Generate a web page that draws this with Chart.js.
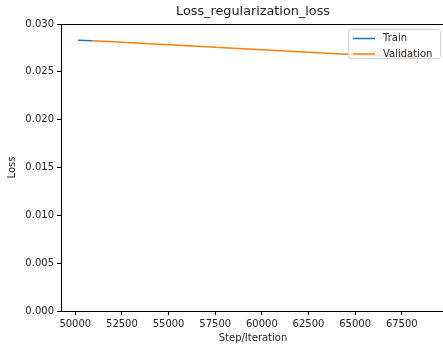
<!DOCTYPE html>
<html>
<head>
<meta charset="utf-8">
<script src="https://cdn.jsdelivr.net/npm/chart.js@4/dist/chart.umd.min.js"></script>
<style>
  html, body { margin: 0; padding: 0; background: #fff; overflow: hidden; }
  #wrap { width: 447px; height: 347px; }
</style>
</head>
<body>
<div id="wrap"><canvas id="c" width="447" height="347"></canvas></div>
<script>
// Training curve (short run at the start)
const trainSteps = [50150, 50900];
const trainLoss  = [0.02830, 0.02826];

// Validation curve
const valSteps = [50900, 52000, 53500, 55000, 56500, 58000, 59500, 61000, 62500, 64000, 65500, 67000, 68500];
const valLoss  = [0.02826, 0.02815, 0.02799, 0.02784, 0.02768, 0.02753, 0.02737, 0.02721, 0.02706, 0.02690, 0.02675, 0.02659, 0.02644];

// Axis ticks
const xTicks = [50000, 52500, 55000, 57500, 60000, 62500, 65000, 67500];
const yTicks = [0.000, 0.005, 0.010, 0.015, 0.020, 0.025, 0.030];

const chartTitle = 'Loss_regularization_loss';

const FONT = "'DejaVu Sans', sans-serif";
const TEXT = '#222';

const toPoints = (xs, ys) => xs.map((x, i) => ({ x: x, y: ys[i] }));

// Full frame around the plot area, plus the title centred over it
const framePlugin = {
  id: 'frame',
  afterDraw(chart) {
    const { ctx, chartArea: a } = chart;
    ctx.save();
    ctx.strokeStyle = '#000';
    ctx.lineWidth = 1;
    ctx.strokeRect(Math.round(a.left) + 0.5, Math.round(a.top) + 0.5,
                   Math.round(a.right - a.left), Math.round(a.bottom - a.top));
    ctx.fillStyle = TEXT;
    ctx.font = '12.8px ' + FONT;
    ctx.textAlign = 'center';
    ctx.textBaseline = 'middle';
    ctx.fillText(chartTitle, (a.left + a.right) / 2, a.top - 12);
    ctx.restore();
  }
};

// Boxed legend in the upper-right corner of the plot
const boxLegend = {
  id: 'boxLegend',
  afterDatasetsDraw(chart) {
    const { ctx, chartArea: a } = chart;
    const sets = chart.data.datasets;
    const w = 92, rowH = 15.5, h = 29;
    const x = a.right - 5 - w, y = a.top + 5;
    ctx.save();
    ctx.beginPath();
    if (ctx.roundRect) ctx.roundRect(x + 0.5, y + 0.5, w, h, 2); else ctx.rect(x + 0.5, y + 0.5, w, h);
    ctx.fillStyle = 'rgba(255,255,255,0.8)';
    ctx.fill();
    ctx.strokeStyle = '#d0d0d0';
    ctx.lineWidth = 1;
    ctx.stroke();
    ctx.font = '10px ' + FONT;
    ctx.textBaseline = 'middle';
    sets.forEach((ds, i) => {
      const cy = y + 9.5 + i * rowH;
      ctx.strokeStyle = ds.borderColor;
      ctx.lineWidth = 1.5;
      ctx.beginPath();
      ctx.moveTo(x + 5, cy);
      ctx.lineTo(x + 27, cy);
      ctx.stroke();
      ctx.fillStyle = TEXT;
      ctx.fillText(ds.label, x + 35, cy);
    });
    ctx.restore();
  }
};

new Chart(document.getElementById('c'), {
  type: 'line',
  data: {
    datasets: [
      { label: 'Train', data: toPoints(trainSteps, trainLoss), borderColor: '#1f77b4',
        borderWidth: 1.5, pointRadius: 0, tension: 0, fill: false },
      { label: 'Validation', data: toPoints(valSteps, valLoss), borderColor: '#ff7f0e',
        borderWidth: 1.5, pointRadius: 0, tension: 0, fill: false }
    ]
  },
  options: {
    responsive: false,
    animation: false,
    events: [],
    layout: { padding: { left: 0, right: 2, top: 24, bottom: 0 } },
    plugins: {
      legend: { display: false },
      tooltip: { enabled: false },
      title: { display: false }
    },
    scales: {
      x: {
        type: 'linear',
        min: 49234,
        max: 69816,
        afterBuildTicks: s => { s.ticks = xTicks.map(v => ({ value: v })); },
        afterFit: s => { s.height = 36; },
        ticks: {
          color: TEXT, font: { family: FONT, size: 10 }, padding: 3, maxRotation: 0,
          callback: v => String(v)
        },
        grid: { drawOnChartArea: false, tickLength: 4, color: '#000', tickColor: '#000' },
        border: { display: true, color: '#000', width: 1 },
        title: {
          display: true, text: 'Step/Iteration', color: TEXT,
          font: { family: FONT, size: 10 }, padding: { top: 3, bottom: 3 }
        }
      },
      y: {
        min: 0,
        max: 0.030,
        afterBuildTicks: s => { s.ticks = yTicks.map(v => ({ value: v })); },
        afterFit: s => { s.width = 61; },
        ticks: {
          color: TEXT, font: { family: FONT, size: 10 }, padding: 3,
          callback: v => Number(v).toFixed(3)
        },
        grid: { drawOnChartArea: false, tickLength: 4, color: '#000', tickColor: '#000' },
        border: { display: true, color: '#000', width: 1 },
        title: {
          display: true, text: 'Loss', color: TEXT,
          font: { family: FONT, size: 10 }, padding: { top: 6.5, bottom: 3 }
        }
      }
    }
  },
  plugins: [framePlugin, boxLegend]
});
</script>
</body>
</html>
